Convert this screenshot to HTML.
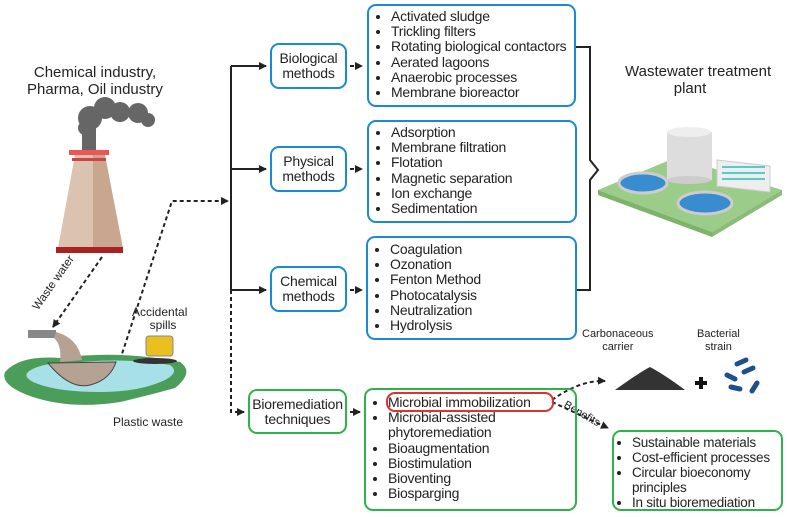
<!DOCTYPE html>
<html><head><meta charset="utf-8"><style>
body{margin:0;width:787px;height:517px;background:#fff;position:relative;overflow:hidden;font-family:"Liberation Sans",sans-serif;color:#222}
.b{position:absolute;border:2px solid #1a8ad4;border-radius:9px;box-sizing:border-box}
.g{border-color:#2db34a}
.m{display:flex;align-items:center;justify-content:center;text-align:center;font-size:14px;line-height:15px;letter-spacing:-0.2px}
ul{margin:0;padding:0 0 0 22px;font-size:14px;line-height:15.2px;letter-spacing:-0.25px;white-space:nowrap}
li{padding-left:0}
.t{position:absolute;font-size:14px;text-align:center;line-height:16px;white-space:nowrap}
</style></head><body>
<svg width="787" height="517" style="position:absolute;left:0;top:0">
<defs><marker id="a" markerWidth="8" markerHeight="8" refX="7" refY="4" orient="auto" markerUnits="userSpaceOnUse"><path d="M0,0L8,4L0,8z" fill="#222"/></marker></defs>
<g stroke="#222" stroke-width="2" fill="none">
<path d="M231 66V290"/>
<path d="M231 66H266" marker-end="url(#a)"/>
<path d="M231 169H266" marker-end="url(#a)"/>
<path d="M231 290H266" marker-end="url(#a)"/>
<path d="M575 47H590V160L598 170L590 180V290H576"/>
</g>
<g stroke="#222" stroke-width="2" fill="none" stroke-dasharray="4,3">
<path d="M231 290V412H244" marker-end="url(#a)"/>
<path d="M350 66H362" marker-end="url(#a)"/>
<path d="M350 169H362" marker-end="url(#a)"/>
<path d="M350 290H362" marker-end="url(#a)"/>
<path d="M350 412H360" marker-end="url(#a)"/>
<path d="M120 360L172 201H228" marker-end="url(#a)"/>
<path d="M102 257L53 327" marker-end="url(#a)"/>
<path d="M552 400Q580 380 605 381" marker-end="url(#a)"/>
<path d="M552 402L608 428" marker-end="url(#a)"/>
</g>
<g fill="#666"><circle cx="90" cy="118" r="12"/><circle cx="105" cy="108" r="11"/><circle cx="120" cy="112" r="10"/><circle cx="138" cy="113" r="10"/><circle cx="148" cy="120" r="7"/><rect x="82" y="120" width="14" height="30"/><circle cx="85" cy="128" r="7"/></g>
<path d="M75 155H105V248H58Z" fill="#dcc3b0"/><path d="M93 155H105L123 248H93Z" fill="#c8a690"/>
<rect x="69" y="150" width="40" height="5" fill="#e55"/><rect x="72" y="158" width="34" height="3" fill="#c44"/>
<rect x="56" y="247" width="67" height="6" fill="#a22"/>
<path d="M5 372Q20 355 60 358Q120 350 180 362Q195 372 175 388Q150 395 120 402Q70 410 30 396Q0 385 5 372Z" fill="#4b9e5a"/>
<path d="M28 372Q40 362 80 362Q130 358 170 365Q180 372 165 380Q140 392 100 392Q60 392 38 384Q22 378 28 372Z" fill="#a8e0e8"/>
<path d="M48 363Q70 390 90 385Q110 380 116 362Z" fill="#b5a293" stroke="#444"/>
<rect x="28" y="330" width="28" height="8" fill="#888"/>
<path d="M56 332Q78 338 82 360L60 362Q62 345 54 338Z" fill="#b5a293"/>
<rect x="146" y="336" width="27" height="20" rx="3" fill="#e8c020" stroke="#888"/>
<ellipse cx="155" cy="361" rx="22" ry="3" fill="#333"/>
<path d="M598 190L677 157L782 190L712 232Z" fill="#9ccc8a"/>
<path d="M598 190L712 232V237L598 195Z" fill="#7cb46a"/>
<path d="M712 232L782 190V195L712 237Z" fill="#8abb78"/>
<rect x="667" y="132" width="45" height="48" fill="#ddd"/><ellipse cx="689" cy="132" rx="22" ry="5" fill="#eee"/><ellipse cx="689" cy="180" rx="22" ry="4" fill="#ccc"/>
<path d="M717 160L770 166V192L717 186Z" fill="#eee" stroke="#ccc"/>
<path d="M722 167H765M722 173H765M722 179H765" stroke="#5cc" stroke-width="2"/>
<ellipse cx="643" cy="183" rx="24" ry="10" fill="#3a8cd0" stroke="#ccc" stroke-width="3"/>
<ellipse cx="705" cy="203" rx="27" ry="11" fill="#3a8cd0" stroke="#ccc" stroke-width="3"/>
<path d="M615 390Q640 372 650 367Q665 375 685 390Z" fill="#333"/>
<path d="M695 383H707M701 377V389" stroke="#111" stroke-width="4"/>
<g stroke="#1d4f8c" stroke-width="5" stroke-linecap="round"><path d="M737 364L746 360"/><path d="M744 372L753 368"/><path d="M727 375L735 379"/><path d="M731 387L740 389"/><path d="M752 391L757 383"/></g>
</svg>
<div class="t" style="left:20px;top:64px;width:150px;font-size:15px;line-height:17px">Chemical industry,<br>Pharma, Oil industry</div>
<div class="t" style="left:625px;top:63px;width:130px;font-size:15px;line-height:17px">Wastewater treatment<br>plant</div>
<div class="t" style="left:22px;top:275px;font-size:11.5px;transform:rotate(-55deg)">Waste water</div>
<div class="t" style="left:132px;top:306px;font-size:12px;line-height:13px">Accidental<br>&nbsp;&nbsp;spills</div>
<div class="t" style="left:113px;top:414px;font-size:12px">Plastic waste</div>
<div class="t" style="left:582px;top:328px;font-size:11px;line-height:13px">Carbonaceous<br>carrier</div>
<div class="t" style="left:697px;top:328px;font-size:11px;line-height:13px">Bacterial<br>strain</div>
<div class="t" style="left:562px;top:406px;font-size:11px;transform:rotate(30deg)">Benefits</div>
<div class="b m" style="left:270px;top:43px;width:77px;height:46px">Biological<br>methods</div>
<div class="b m" style="left:270px;top:146px;width:77px;height:46px">Physical<br>methods</div>
<div class="b m" style="left:270px;top:266px;width:77px;height:46px">Chemical<br>methods</div>
<div class="b g m" style="left:248px;top:389px;width:99px;height:45px">Bioremediation<br>techniques</div>
<div class="b" style="left:367px;top:4px;width:209px;height:103px;padding-top:3px"><ul><li>Activated sludge</li><li>Trickling filters</li><li>Rotating biological contactors</li><li>Aerated lagoons</li><li>Anaerobic processes</li><li>Membrane bioreactor</li></ul></div>
<div class="b" style="left:367px;top:120px;width:210px;height:103px;padding-top:3px"><ul><li>Adsorption</li><li>Membrane filtration</li><li>Flotation</li><li>Magnetic separation</li><li>Ion exchange</li><li>Sedimentation</li></ul></div>
<div class="b" style="left:366px;top:236px;width:211px;height:104px;padding-top:4px"><ul><li>Coagulation</li><li>Ozonation</li><li>Fenton Method</li><li>Photocatalysis</li><li>Neutralization</li><li>Hydrolysis</li></ul></div>
<div class="b g" style="left:364px;top:388px;width:213px;height:123px;padding-top:5px"><ul><li>Microbial immobilization</li><li>Microbial-assisted<br>phytoremediation</li><li>Bioaugmentation</li><li>Biostimulation</li><li>Bioventing</li><li>Biosparging</li></ul></div>
<div style="position:absolute;left:386px;top:392px;width:164px;height:16px;border:2px solid #e03030;border-radius:9px"></div>
<div class="b g" style="left:612px;top:430px;width:171px;height:81px;padding-top:3px"><ul style="padding-left:18px;font-size:13.5px;line-height:15px"><li>Sustainable materials</li><li>Cost-efficient processes</li><li>Circular bioeconomy<br>principles</li><li>In situ bioremediation</li></ul></div>
</body></html>
